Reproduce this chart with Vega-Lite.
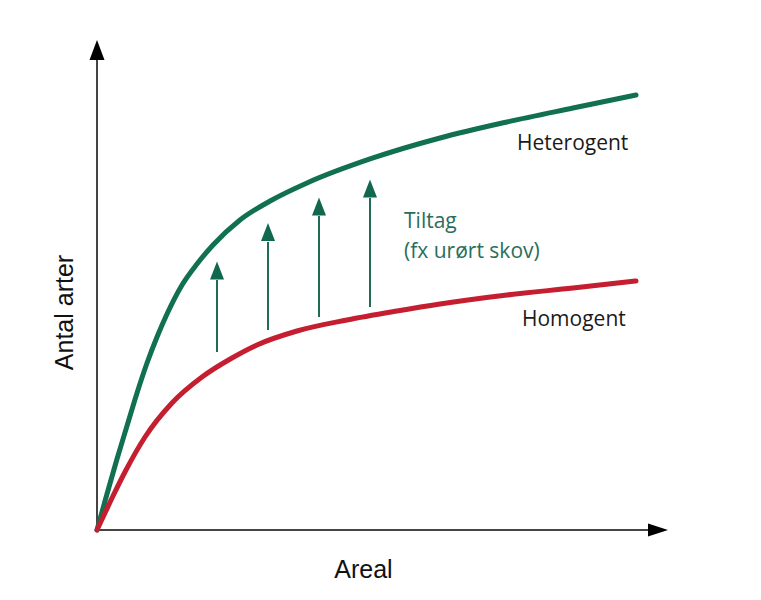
{
  "$schema": "https://vega.github.io/schema/vega-lite/v6.json",
  "width": 571,
  "height": 490,
  "autosize": {"type": "none"},
  "padding": {"left": 97, "top": 40, "right": 93, "bottom": 70},
  "background": "white",
  "config": {"view": {"stroke": null}},
  "datasets": {
    "curves": [
      {"series": "Heterogent", "x": 0, "y": 0},
      {"series": "Heterogent", "x": 1.75, "y": 7.35},
      {"series": "Heterogent", "x": 3.5, "y": 14.49},
      {"series": "Heterogent", "x": 5.25, "y": 21.22},
      {"series": "Heterogent", "x": 7.01, "y": 27.96},
      {"series": "Heterogent", "x": 8.76, "y": 34.08},
      {"series": "Heterogent", "x": 10.51, "y": 39.39},
      {"series": "Heterogent", "x": 12.26, "y": 44.08},
      {"series": "Heterogent", "x": 14.89, "y": 50.0},
      {"series": "Heterogent", "x": 17.51, "y": 54.29},
      {"series": "Heterogent", "x": 20.32, "y": 58.16},
      {"series": "Heterogent", "x": 25.04, "y": 63.27},
      {"series": "Heterogent", "x": 30.65, "y": 67.35},
      {"series": "Heterogent", "x": 36.78, "y": 70.82},
      {"series": "Heterogent", "x": 48.34, "y": 75.92},
      {"series": "Heterogent", "x": 60.07, "y": 80.0},
      {"series": "Heterogent", "x": 71.8, "y": 83.27},
      {"series": "Heterogent", "x": 83.36, "y": 86.12},
      {"series": "Heterogent", "x": 94.4, "y": 88.78},
      {"series": "Homogent", "x": 0, "y": 0},
      {"series": "Homogent", "x": 1.23, "y": 3.06},
      {"series": "Homogent", "x": 2.63, "y": 6.53},
      {"series": "Homogent", "x": 4.9, "y": 11.84},
      {"series": "Homogent", "x": 8.41, "y": 18.98},
      {"series": "Homogent", "x": 13.13, "y": 25.92},
      {"series": "Homogent", "x": 18.39, "y": 31.22},
      {"series": "Homogent", "x": 23.64, "y": 35.1},
      {"series": "Homogent", "x": 28.02, "y": 37.76},
      {"series": "Homogent", "x": 35.03, "y": 40.61},
      {"series": "Homogent", "x": 43.78, "y": 42.86},
      {"series": "Homogent", "x": 52.54, "y": 44.69},
      {"series": "Homogent", "x": 60.07, "y": 46.12},
      {"series": "Homogent", "x": 71.8, "y": 47.96},
      {"series": "Homogent", "x": 83.36, "y": 49.39},
      {"series": "Homogent", "x": 94.4, "y": 50.82}
    ],
    "arrows": [
      {"x": 21.02, "y": 36.33, "y2": 51.02, "head": 52.96},
      {"x": 29.95, "y": 40.82, "y2": 58.78, "head": 60.82},
      {"x": 38.88, "y": 43.47, "y2": 64.08, "head": 66.02},
      {"x": 47.81, "y": 45.51, "y2": 67.76, "head": 69.69}
    ],
    "yaxis": [{"x": 0, "y": 0, "y2": 95.92, "tip": 97.96}],
    "xaxis": [{"x": 0, "x2": 96.5, "y": 0, "tip": 98.25}],
    "labels": [
      {"x": 73.56, "y": 77.55, "text": "Heterogent"},
      {"x": 74.43, "y": 41.63, "text": "Homogent"}
    ],
    "tiltag": [
      {"x": 53.77, "y": 61.63, "text": "Tiltag"},
      {"x": 53.77, "y": 55.51, "text": "(fx urørt skov)"}
    ]
  },
  "encoding": {
    "x": {
      "field": "x", "type": "quantitative",
      "scale": {"domain": [0, 100], "nice": false, "zero": false},
      "axis": {
        "title": "Areal", "domain": false, "ticks": false, "labels": false, "grid": false,
        "titleFont": "Liberation Sans", "titleFontSize": 25, "titleFontWeight": "normal", "titleColor": "#111",
        "titleX": 266, "titleY": 47, "titleAlign": "center", "titleBaseline": "alphabetic"
      }
    },
    "y": {
      "field": "y", "type": "quantitative",
      "scale": {"domain": [0, 100], "nice": false, "zero": false},
      "axis": {
        "title": "Antal arter", "domain": false, "ticks": false, "labels": false, "grid": false,
        "titleFont": "Liberation Sans", "titleFontSize": 25, "titleFontWeight": "normal", "titleColor": "#111",
        "titleX": -25, "titleY": 272, "titleAngle": -90, "titleAlign": "center", "titleBaseline": "alphabetic"
      }
    }
  },
  "layer": [
    {
      "data": {"name": "yaxis"},
      "mark": {"type": "rule", "color": "#444", "strokeWidth": 2},
      "encoding": {"y2": {"field": "y2"}}
    },
    {
      "data": {"name": "xaxis"},
      "mark": {"type": "rule", "color": "#444", "strokeWidth": 2},
      "encoding": {"x2": {"field": "x2"}}
    },
    {
      "data": {"name": "yaxis"},
      "mark": {"type": "point", "shape": "M-1,1.333L0,-1.333L1,1.333Z", "size": 225, "filled": true, "color": "#000", "opacity": 1},
      "encoding": {"y": {"field": "tip", "type": "quantitative"}}
    },
    {
      "data": {"name": "xaxis"},
      "mark": {"type": "point", "shape": "M-1.54,-1L1.54,0L-1.54,1Z", "size": 169, "filled": true, "color": "#000", "opacity": 1},
      "encoding": {"x": {"field": "tip", "type": "quantitative"}}
    },
    {
      "data": {"name": "curves"},
      "mark": {"type": "line", "strokeWidth": 5, "interpolate": "monotone", "strokeCap": "round"},
      "encoding": {
        "color": {
          "field": "series", "type": "nominal",
          "scale": {"domain": ["Heterogent", "Homogent"], "range": ["#10704f", "#c41e30"]},
          "legend": null
        }
      }
    },
    {
      "data": {"name": "arrows"},
      "mark": {"type": "rule", "color": "#1f6b55", "strokeWidth": 2},
      "encoding": {"y2": {"field": "y2"}}
    },
    {
      "data": {"name": "arrows"},
      "mark": {"type": "point", "shape": "M-1,1.3L0,-1.3L1,1.3Z", "size": 196, "filled": true, "color": "#11684f", "opacity": 1},
      "encoding": {"y": {"field": "head", "type": "quantitative"}}
    },
    {
      "data": {"name": "labels"},
      "mark": {"type": "text", "align": "left", "baseline": "alphabetic", "font": "Open Sans", "fontSize": 21, "color": "#1a1a1a"},
      "encoding": {"text": {"field": "text"}}
    },
    {
      "data": {"name": "tiltag"},
      "mark": {"type": "text", "align": "left", "baseline": "alphabetic", "font": "Open Sans", "fontSize": 21, "color": "#2a6e5a"},
      "encoding": {"text": {"field": "text"}}
    }
  ]
}
